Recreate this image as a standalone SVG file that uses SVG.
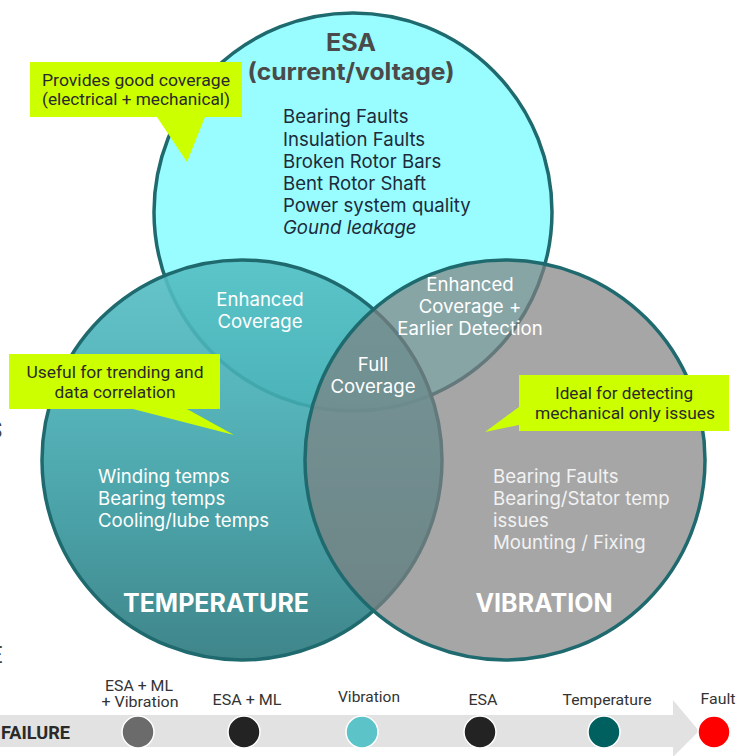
<svg xmlns="http://www.w3.org/2000/svg" width="742" height="756" viewBox="0 0 742 756">
  <defs>
    <linearGradient id="tempGrad" gradientUnits="userSpaceOnUse" x1="0" y1="260" x2="0" y2="660">
      <stop offset="0" stop-color="#55bfc4"/>
      <stop offset="0.35" stop-color="#43acb2"/>
      <stop offset="0.65" stop-color="#36979d"/>
      <stop offset="1" stop-color="#2a787d"/>
    </linearGradient>
    <style>
      .circle { stroke: #1f6a6e; stroke-width: 3.5; }
      .inter { font-family: Inter, "Noto Sans", "DejaVu Sans", sans-serif; }
      .list { font-size: 18.6px; }
      .white { fill: #ffffff; }
      .title { font-weight: 700; font-size: 25px; fill: #ffffff; text-anchor: middle; }
      .mid { text-anchor: middle; }
      .callout { fill: #ccff00; }
      .ctext { font-family: Roboto, "Liberation Sans", sans-serif; font-size: 16px; fill: #2a2a2a; text-anchor: middle; }
      .tl { font-family: Roboto, "Liberation Sans", sans-serif; font-size: 14.5px; fill: #333333; text-anchor: middle; }
      .dot { stroke: #ffffff; stroke-width: 1.5; }
    </style>
  </defs>
  <rect width="742" height="756" fill="#ffffff"/>

  <!-- cut-off glyphs at the left edge -->
  <text x="-12" y="438" font-family="Roboto, sans-serif" font-size="24" fill="#444444">S</text>
  <text x="-11" y="663" font-family="Roboto, sans-serif" font-size="24" fill="#444444">E</text>

  <g id="esa">
    <circle class="circle" cx="353" cy="212" r="199" fill="#99fcff"/>
    <text class="inter mid" x="351" y="51" font-size="24" font-weight="700" fill="#4a4a4a" textLength="50" lengthAdjust="spacingAndGlyphs">ESA</text>
    <text class="inter mid" x="351" y="80" font-size="24" font-weight="700" fill="#4a4a4a" textLength="207" lengthAdjust="spacingAndGlyphs">(current/voltage)</text>
    <g class="inter list" fill="#1d2b3a">
      <text x="283" y="123">Bearing Faults</text>
      <text x="283" y="146">Insulation Faults</text>
      <text x="283" y="168">Broken Rotor Bars</text>
      <text x="283" y="190">Bent Rotor Shaft</text>
      <text x="283" y="212">Power system quality</text>
      <text x="283" y="234" font-style="italic">Gound leakage</text>
    </g>
  </g>

  <g id="temperature">
    <circle class="circle" cx="242" cy="460" r="200" fill="url(#tempGrad)" fill-opacity="0.9"/>
    <g class="inter list white">
      <text x="98" y="483">Winding temps</text>
      <text x="98" y="505">Bearing temps</text>
      <text x="98" y="527">Cooling/lube temps</text>
    </g>
    <text class="inter title" x="216" y="612">TEMPERATURE</text>
  </g>

  <g id="vibration">
    <circle class="circle" cx="505" cy="460" r="200" fill="#808080" fill-opacity="0.7"/>
    <g class="inter list" fill="#f2f2f2">
      <text x="493" y="483">Bearing Faults</text>
      <text x="493" y="505">Bearing/Stator temp</text>
      <text x="493" y="527">issues</text>
      <text x="493" y="549">Mounting / Fixing</text>
    </g>
    <text class="inter title" x="544" y="612" fill="#f5f5f5">VIBRATION</text>
  </g>

  <g id="overlaps" class="inter list white">
    <text class="mid" x="260" y="306">Enhanced</text>
    <text class="mid" x="260" y="328">Coverage</text>
    <text class="mid" x="470" y="291">Enhanced</text>
    <text class="mid" x="470" y="313">Coverage +</text>
    <text class="mid" x="470" y="335">Earlier Detection</text>
    <text class="mid" x="373" y="371">Full</text>
    <text class="mid" x="373" y="393">Coverage</text>
  </g>

  <g id="callout-esa">
    <polygon class="callout" points="30,62 242,62 242,117 205,117 187,162 157,117 30,117"/>
    <text class="ctext" x="136" y="86" textLength="188" lengthAdjust="spacingAndGlyphs">Provides good coverage</text>
    <text class="ctext" x="136" y="105" textLength="188" lengthAdjust="spacingAndGlyphs">(electrical + mechanical)</text>
  </g>

  <g id="callout-temperature">
    <polygon class="callout" points="9,354 220,354 220,409 187,409 234,435 133,409 9,409"/>
    <text class="ctext" x="115" y="378" textLength="177" lengthAdjust="spacingAndGlyphs">Useful for trending and</text>
    <text class="ctext" x="115" y="398" textLength="121" lengthAdjust="spacingAndGlyphs">data correlation</text>
  </g>

  <g id="callout-vibration">
    <polygon class="callout" points="519,375 729,375 729,431 519,431 519,425 485,432 519,407"/>
    <text class="ctext" x="624" y="399" textLength="138" lengthAdjust="spacingAndGlyphs">Ideal for detecting</text>
    <text class="ctext" x="625" y="419" textLength="180" lengthAdjust="spacingAndGlyphs">mechanical only  issues</text>
  </g>

  <g id="timeline">
    <polygon points="0,715 673,715 673,700 699,731 673,757 673,747 0,747" fill="#e2e2e2"/>
    <text x="1" y="739" font-family="Roboto, 'Liberation Sans', sans-serif" font-weight="700" font-size="19" fill="#2a2a2a" textLength="69" lengthAdjust="spacingAndGlyphs">FAILURE</text>
  </g>

  <g id="stage-esa-ml-vibration">
    <circle class="dot" cx="138" cy="732" r="16" fill="#6b6b6b"/>
    <text class="tl" x="139" y="691" textLength="68" lengthAdjust="spacingAndGlyphs">ESA + ML</text>
    <text class="tl" x="140" y="707" textLength="77" lengthAdjust="spacingAndGlyphs">+ Vibration</text>
  </g>
  <g id="stage-esa-ml">
    <circle class="dot" cx="244" cy="732" r="16" fill="#232323"/>
    <text class="tl" x="247" y="705" textLength="69" lengthAdjust="spacingAndGlyphs">ESA + ML</text>
  </g>
  <g id="stage-vibration">
    <circle class="dot" cx="362" cy="732" r="16" fill="#5cc4c9"/>
    <text class="tl" x="369" y="702" textLength="62" lengthAdjust="spacingAndGlyphs">Vibration</text>
  </g>
  <g id="stage-esa">
    <circle class="dot" cx="480" cy="732" r="16" fill="#232323"/>
    <text class="tl" x="483" y="705" textLength="29" lengthAdjust="spacingAndGlyphs">ESA</text>
  </g>
  <g id="stage-temperature">
    <circle class="dot" cx="604" cy="732" r="16" fill="#006060"/>
    <text class="tl" x="607" y="705" textLength="89" lengthAdjust="spacingAndGlyphs">Temperature</text>
  </g>
  <g id="stage-fault">
    <circle class="dot" cx="714" cy="732" r="16" fill="#ff0000"/>
    <text class="tl" x="718" y="704" textLength="35" lengthAdjust="spacingAndGlyphs">Fault</text>
  </g>
</svg>
